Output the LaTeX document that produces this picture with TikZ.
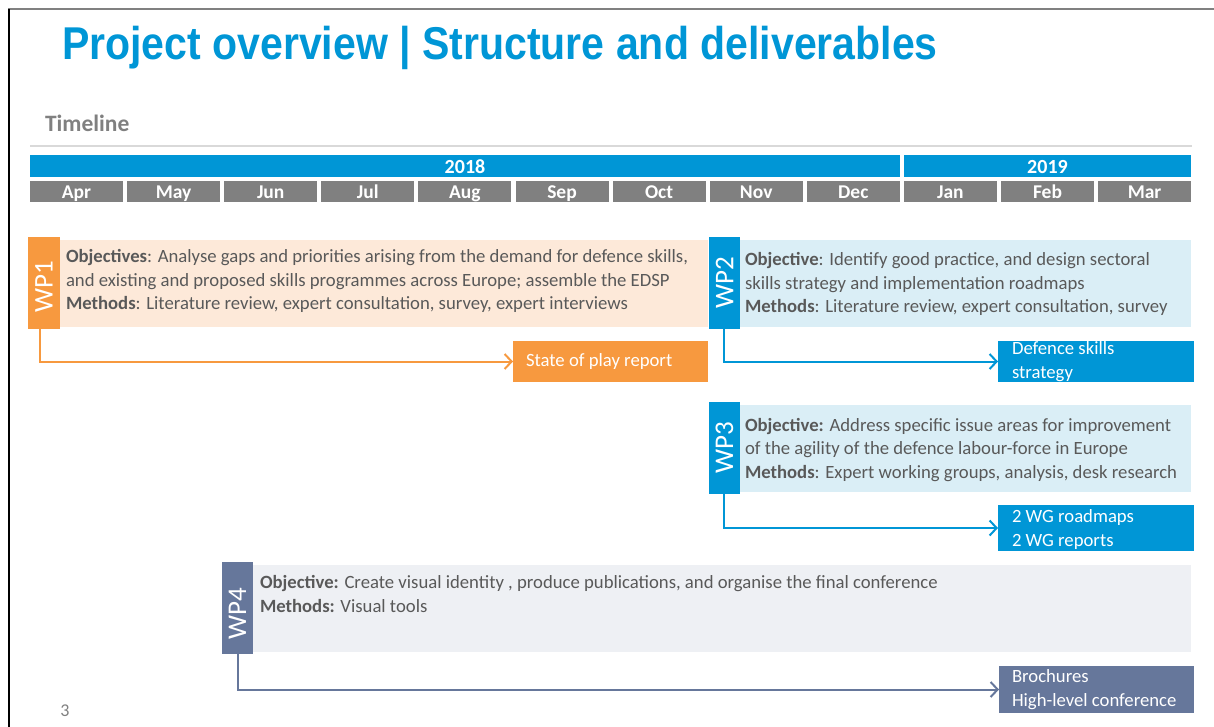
\documentclass[tikz,border=0pt]{standalone}
\usepackage{fontspec}
\setmainfont{Carlito}
\newfontfamily\titlefont{Liberation Sans}
\usetikzlibrary{arrows.meta}
\definecolor{tblue}{HTML}{0096D6}
\definecolor{wporange}{HTML}{F7993F}
\definecolor{lorange}{HTML}{FDE9D9}
\definecolor{lblue}{HTML}{DAEEF6}
\definecolor{slate}{HTML}{66779B}
\definecolor{lslate}{HTML}{EEF0F4}
\definecolor{mgray}{HTML}{808080}
\definecolor{txt}{HTML}{595959}
\definecolor{rulegray}{HTML}{D9D9D9}
\begin{document}
\begin{tikzpicture}[x=1pt,y=-1pt,
  every node/.style={inner sep=0pt, outer sep=0pt},
  bodyfont/.style={font=\fontsize{18.7}{23.5}\selectfont},
  cell/.style={fill=mgray, text=white, minimum width=93, minimum height=21, text height=15, text depth=0, anchor=north west, font=\bfseries\fontsize{19.5}{20}\selectfont},
  yearcell/.style={fill=tblue, text=white, minimum height=22, text height=16, text depth=0, anchor=north west, font=\bfseries\fontsize{20}{20}\selectfont},
  panel/.style={minimum height=87, anchor=north west},
  tab/.style={minimum width=31, minimum height=92, anchor=north west},
  wplabel/.style={rotate=90, text=white, font=\fontsize{27}{28}\selectfont},
  bodytext/.style={anchor=west, align=left, text=txt, bodyfont},
  deliv/.style={minimum width=196, anchor=north west},
  delivtext/.style={anchor=west, align=left, text=white, font=\fontsize{18.7}{24}\selectfont},
  flow/.style={line width=2pt, -{Straight Barb[length=7pt, width=15pt, line width=2pt]}}
]
\useasboundingbox (0,0) rectangle (1214,727);
\draw[mgray, line width=2.5pt] (8,9) -- (1214,9);
\draw[black, line width=1.2pt] (9,9) -- (9,727);

\node[anchor=base west, text=tblue] (title) at (62,60)
  {\scalebox{0.892}[1]{\titlefont\bfseries\fontsize{46}{50}\selectfont Project overview | Structure and deliverables}};

\node[anchor=base west, text=mgray, font=\bfseries\fontsize{23.5}{26}\selectfont] (tl) at (45,132) {Timeline};
\draw[rulegray, line width=1.5pt] (30,146) -- (1192,146);

\node[yearcell, minimum width=870] (y18) at (30,155) {2018};
\node[yearcell, minimum width=287] (y19) at (904,155) {2019};
\foreach \m [count=\i from 0] in {Apr,May,Jun,Jul,Aug,Sep,Oct,Nov,Dec,Jan,Feb,Mar}
  \node[cell] (m\i) at ({30+\i*97.1},181) {\m};

% WP1
\node[panel, fill=lorange, minimum width=648] (b1) at (60,240) {};
\node[tab, fill=wporange, minimum width=32] (t1) at (28,237) {};
\node[wplabel] (w1) at ([yshift=-4pt]t1.center) {WP1};
\node[bodytext] (x1) at (66,281) {\textbf{Objectives}: Analyse gaps and priorities arising from the demand for defence skills,\\and existing and proposed skills programmes across Europe; assemble the EDSP\\\textbf{Methods}: Literature review, expert consultation, survey, expert interviews};
\node[deliv, fill=wporange, minimum width=195, minimum height=41] (d1) at (513,341) {};
\node[delivtext] (d1t) at (526,361.5) {State of play report};
\draw[flow, wporange] ([xshift=12pt]t1.south west) |- (d1.west);

% WP2
\node[panel, fill=lblue, minimum width=451] (b2) at (740,240) {};
\node[tab, fill=tblue] (t2) at (709,237) {};
\node[wplabel] (w2) at (t2.center) {WP2};
\node[bodytext] (x2) at (745,284) {\textbf{Objective}: Identify good practice, and design sectoral\\skills strategy and implementation roadmaps\\\textbf{Methods}: Literature review, expert consultation, survey};
\node[deliv, fill=tblue, minimum height=41] (d2) at (998,341) {};
\node[delivtext] (d2t) at (1012,362) {Defence skills\\strategy};
\draw[flow, tblue] ([xshift=15pt]t2.south west) |- (d2.west);

% WP3
\node[panel, fill=lblue, minimum width=451] (b3) at (740,405) {};
\node[tab, fill=tblue] (t3) at (709,402) {};
\node[wplabel] (w3) at (t3.center) {WP3};
\node[bodytext] (x3) at (745,450) {\textbf{Objective:} Address specific issue areas for improvement\\of the agility of the defence labour-force in Europe\\\textbf{Methods}: Expert working groups, analysis, desk research};
\node[deliv, fill=tblue, minimum height=46] (d3) at (998,505) {};
\node[delivtext] (d3t) at (1012,530) {2 WG roadmaps\\2 WG reports};
\draw[flow, tblue] ([xshift=15pt]t3.south west) |- (d3.west);

% WP4
\node[panel, fill=lslate, minimum width=938] (b4) at (253,565) {};
\node[tab, fill=slate] (t4) at (222,562) {};
\node[wplabel] (w4) at ([yshift=-6pt]t4.center) {WP4};
\node[bodytext] (x4) at (260,594) {\textbf{Objective:} Create visual identity , produce publications, and organise the final conference\\\textbf{Methods:} Visual tools};
\node[deliv, fill=slate, minimum width=195, minimum height=47] (d4) at (999,666) {};
\node[delivtext] (d4t) at (1012,690) {Brochures\\High-level conference};
\draw[flow, slate] ([xshift=16pt]t4.south west) |- (d4.west);

\node[text=mgray, font=\fontsize{18}{20}\selectfont] (pg) at (65,711) {3};
\end{tikzpicture}
\end{document}
